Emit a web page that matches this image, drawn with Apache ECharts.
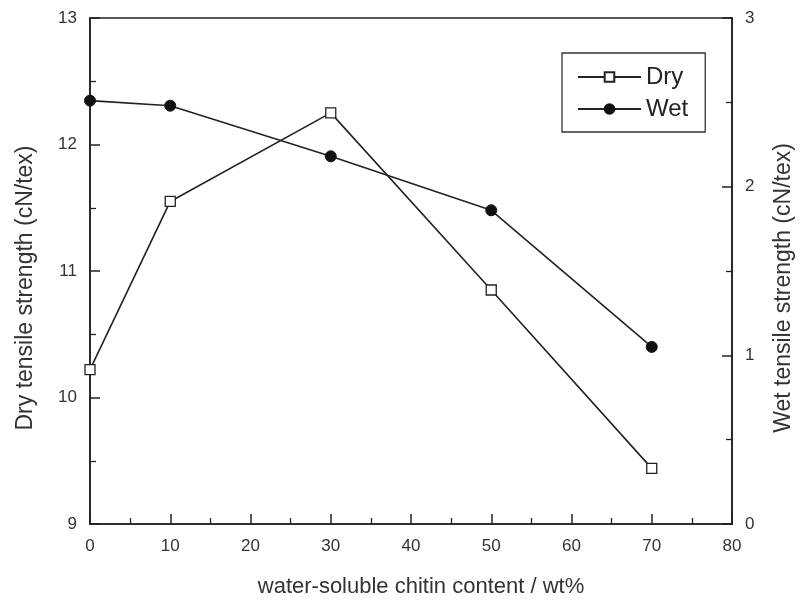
<!DOCTYPE html>
<html>
<head>
<meta charset="utf-8">
<script src="https://cdn.jsdelivr.net/npm/echarts@6/dist/echarts.min.js"></script>
<style>html,body{margin:0;padding:0;background:#fff;overflow:hidden;width:803px;height:603px;}#c{width:803px;height:603px;}</style>
</head>
<body>
<div id="c"></div>
<script>
const xValues = [0, 10, 30, 50, 70];
const dryValues = [10.22, 11.55, 12.25, 10.85, 9.44];
const wetValues = [2.51, 2.48, 2.18, 1.86, 1.05];
const seriesNames = ['Dry', 'Wet'];
const xTitle = 'water-soluble chitin content / wt%';
const leftTitle = 'Dry tensile strength (cN/tex)';
const rightTitle = 'Wet tensile strength (cN/tex)';

const font = 'Liberation Sans, Arial, sans-serif';
const axisLine = {show: true, lineStyle: {color: '#222', width: 1.6}};
const tick = {inside: true, length: 10, lineStyle: {color: '#222', width: 1.5}};
const minor = {show: true, splitNumber: 2, length: 6, lineStyle: {color: '#222', width: 1.3}};
const label = {fontFamily: font, fontSize: 17, color: '#333', margin: 13};
const titleStyle = {fontFamily: font, fontSize: 23, color: '#333', padding: [0, 34, 0, 0]};
const chart = echarts.init(document.getElementById('c'), null, {width: 803, height: 603});
chart.setOption({
  animation: false,
  backgroundColor: '#fff',
  grid: {left: 90, right: 60, top: 18, bottom: 74, show: true, borderColor: '#222', borderWidth: 1.6, backgroundColor: 'transparent'},
  legend: {
    orient: 'vertical', left: 562, top: 53,
    data: seriesNames,
    itemWidth: 63, itemHeight: 12, itemGap: 8,
    padding: [12, 17, 11, 15],
    borderColor: '#333', borderWidth: 1.3,
    textStyle: {fontFamily: font, fontSize: 24, color: '#222'}
  },
  xAxis: {
    type: 'value', min: 0, max: 80, interval: 10,
    name: xTitle, nameLocation: 'middle', nameGap: 52,
    nameTextStyle: {fontFamily: font, fontSize: 22, color: '#333', padding: [0, 0, 0, 20]},
    axisLine: axisLine, axisTick: tick, minorTick: minor,
    axisLabel: Object.assign({}, label, {margin: 14}),
    splitLine: {show: false}
  },
  yAxis: [{
    type: 'value', min: 9, max: 13, interval: 1, position: 'left',
    name: leftTitle, nameLocation: 'middle', nameGap: 53, nameRotate: 90,
    nameTextStyle: titleStyle,
    axisLine: axisLine, axisTick: tick, minorTick: minor,
    axisLabel: label,
    splitLine: {show: false}
  }, {
    type: 'value', min: 0, max: 3, interval: 1, position: 'right',
    name: rightTitle, nameLocation: 'middle', nameGap: 40, nameRotate: 90,
    nameTextStyle: titleStyle,
    axisLine: axisLine, axisTick: tick, minorTick: minor,
    axisLabel: label,
    splitLine: {show: false}
  }],
  series: [{
    name: seriesNames[0], type: 'line', yAxisIndex: 0,
    data: xValues.map((x, i) => [x, dryValues[i]]),
    symbol: 'rect', symbolSize: 10,
    itemStyle: {color: '#fff', borderColor: '#222', borderWidth: 1.3},
    lineStyle: {color: '#222', width: 1.6}
  }, {
    name: seriesNames[1], type: 'line', yAxisIndex: 1,
    data: xValues.map((x, i) => [x, wetValues[i]]),
    symbol: 'circle', symbolSize: 11,
    itemStyle: {color: '#111', borderColor: '#111', borderWidth: 1},
    lineStyle: {color: '#222', width: 1.6}
  }]
});
</script>
</body>
</html>
